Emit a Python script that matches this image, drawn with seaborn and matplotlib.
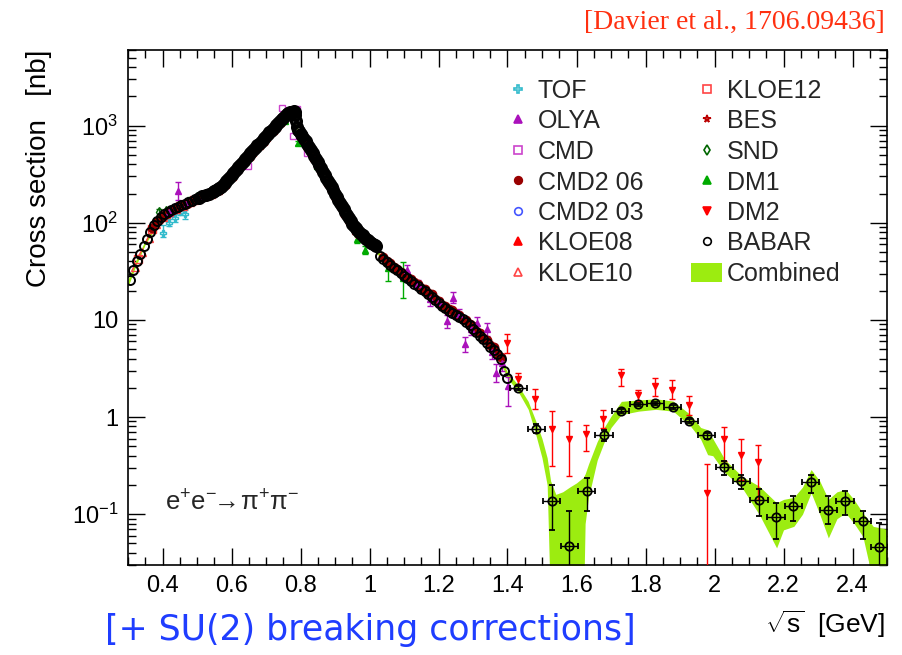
import numpy as np
import matplotlib
matplotlib.use("Agg")
import matplotlib.pyplot as plt
import seaborn as sns
from matplotlib.lines import Line2D
from matplotlib.patches import Patch
from matplotlib.ticker import FixedLocator, FixedFormatter, MultipleLocator, LogLocator, NullFormatter

sns.set_style("ticks")
plt.rcParams['font.family'] = ['Liberation Sans', 'DejaVu Sans']
plt.rcParams['mathtext.fontset'] = 'custom'
plt.rcParams['mathtext.rm'] = 'Liberation Sans'
plt.rcParams['mathtext.it'] = 'Liberation Sans:italic'
plt.rcParams['mathtext.bf'] = 'Liberation Sans:bold'

# ---------------- data ----------------
babar_x = [0.305, 0.315, 0.325, 0.335, 0.345, 0.355, 0.365, 0.375, 0.385, 0.395,
           0.405, 0.415, 0.425, 0.435, 0.445, 0.455, 0.465, 0.475, 0.485, 0.495,
           0.505, 0.515, 0.525, 0.535, 0.545, 0.550, 0.555, 0.560, 0.565, 0.570,
           0.575, 0.580, 0.585, 0.590, 0.595, 0.600, 0.605, 0.610, 0.615, 0.620,
           0.625, 0.630, 0.635, 0.640, 0.645, 0.650, 0.655, 0.660, 0.665, 0.670,
           0.675, 0.680, 0.685, 0.690, 0.695, 0.700, 0.705, 0.710, 0.715, 0.720,
           0.725, 0.730, 0.735, 0.740, 0.745, 0.750, 0.755, 0.760, 0.765, 0.770,
           0.775, 0.780, 0.783, 0.785, 0.787, 0.789, 0.792, 0.795, 0.800, 0.805,
           0.810, 0.815, 0.820, 0.825, 0.830, 0.835, 0.840, 0.845, 0.850, 0.855,
           0.860, 0.865, 0.870, 0.875, 0.880, 0.885, 0.890, 0.895, 0.900, 0.905,
           0.910, 0.915, 0.920, 0.925, 0.930, 0.935, 0.940, 0.945, 0.950, 0.955,
           0.960, 0.965, 0.970, 0.975, 0.980, 0.985, 0.990, 0.995, 1.000, 1.005,
           1.010, 1.015, 1.020, 1.030, 1.040, 1.050, 1.060, 1.070, 1.080, 1.090,
           1.100, 1.110, 1.120, 1.130, 1.140, 1.150, 1.160, 1.170, 1.180, 1.190,
           1.200, 1.210, 1.220, 1.230, 1.240, 1.250, 1.260, 1.270, 1.280, 1.290,
           1.300, 1.310, 1.320, 1.330, 1.340, 1.350, 1.360, 1.370, 1.380, 1.390,
           1.400]
babar_y = [26, 33, 40, 48, 57, 68, 80, 94, 105, 114,
           122, 129, 135, 141, 146, 151, 156, 162, 168, 175,
           181, 187, 193, 199, 206, 210, 215, 221, 228, 236,
           246, 257, 268, 281, 295, 310, 326, 343, 360, 378,
           397, 416, 436, 456, 478, 500, 523, 547, 572, 598,
           625, 653, 683, 714, 746, 780, 815, 851, 889, 929,
           971, 1015, 1062, 1110, 1160, 1210, 1260, 1305, 1345, 1375,
           1395, 1405, 1395, 1300, 1120, 960, 905, 875, 825, 780,
           733, 688, 643, 600, 560, 522, 486, 452, 420, 390,
           362, 336, 312, 290, 269, 250, 232, 215, 200, 186,
           173, 161, 150, 139, 130, 121, 113, 105, 98, 93,
           88, 84, 80, 77, 74, 71, 68, 66, 64, 62,
           60, 58.5, 57, 45, 42, 39.5, 37, 34.5, 32.3, 30.3,
           28.5, 26.8, 25.2, 23.6, 22.2, 21.0, 19.8, 18.5, 17.2, 16.0,
           15.0, 14.0, 13.2, 12.4, 11.8, 11.2, 10.7, 10.1, 9.5, 8.8,
           8.1, 7.5, 6.9, 6.3, 5.8, 5.3, 4.9, 4.5, 4.0, 3.0,
           2.5]

babar_hi_x = [1.431, 1.483, 1.528, 1.579, 1.629, 1.680, 1.728, 1.779, 1.828, 1.879, 1.927,
              1.977, 2.028, 2.078, 2.129, 2.178, 2.228, 2.279, 2.330, 2.378, 2.429, 2.478]
babar_hi_y = [2.0, 0.757, 0.136, 0.047, 0.173, 0.65, 1.15, 1.35, 1.38, 1.26, 0.91,
              0.646, 0.305, 0.222, 0.139, 0.094, 0.121, 0.214, 0.11, 0.136, 0.086, 0.046]
babar_hi_lo = [1.9, 0.68, 0.069, 0.005, 0.107, 0.565, 1.09, 1.29, 1.32, 1.2, 0.86,
               0.6, 0.256, 0.18, 0.096, 0.055, 0.085, 0.166, 0.079, 0.099, 0.055, 0.005]
babar_hi_up = [2.1, 0.84, 0.2, 0.107, 0.237, 0.74, 1.21, 1.41, 1.44, 1.32, 0.96,
               0.69, 0.35, 0.256, 0.18, 0.131, 0.153, 0.256, 0.153, 0.173, 0.107, 0.082]
babar_hi_xerr = 0.025

dm2_x = [1.398, 1.431, 1.480, 1.528, 1.579, 1.628, 1.678, 1.728, 1.777, 1.828, 1.878,
         1.927, 1.977, 2.028, 2.078, 2.127]
dm2_y = [5.8, 2.48, 1.54, 0.757, 0.6, 0.662, 0.945, 2.68, 1.67, 2.08, 1.92,
         1.32, 0.166, 0.6, 0.41, 0.343]
dm2_lo = [4.6, 2.16, 1.2, 0.313, 0.246, 0.445, 0.776, 2.08, 1.46, 1.64, 1.52,
          1.06, 0.003, 0.35, 0.227, 0.14]
dm2_up = [7.1, 2.86, 1.96, 1.15, 0.91, 0.82, 1.18, 3.1, 1.89, 2.54, 2.4,
          1.64, 0.325, 0.79, 0.59, 0.51]

olya_x = [0.420, 0.446, 0.470, 0.520, 0.570, 0.620, 0.670, 0.720, 0.760, 0.800, 0.850,
          0.900, 0.950, 1.000, 1.108, 1.140, 1.175, 1.200, 1.224, 1.242, 1.260, 1.277,
          1.295, 1.311, 1.340, 1.355, 1.368, 1.385, 1.402]
olya_y = [128, 212, 160, 188, 235, 372, 590, 915, 1290, 810, 425,
          205, 101, 61, 33, 23.5, 16.3, 15.2, 9.7, 17, 11.5, 5.6,
          8.0, 9.3, 8.0, 4.7, 2.86, 3.6, 2.08]
olya_lo = [118, 172, 148, 176, 222, 352, 560, 870, 1230, 770, 405,
           195, 95, 56, 29, 21, 14, 13.5, 8.3, 14.8, 10.2, 4.7,
           7.0, 8.1, 6.9, 4.0, 2.3, 3.0, 1.3]
olya_up = [138, 260, 172, 200, 248, 392, 620, 960, 1350, 850, 445,
           215, 107, 66, 37, 26, 18.6, 17, 11.2, 19.4, 12.8, 6.6,
           9.0, 10.6, 9.3, 5.5, 3.5, 4.3, 2.6]

cmd2_06_x = [0.37, 0.38, 0.39, 0.40, 0.41, 0.42, 0.43, 0.44, 0.45, 0.46, 0.47, 0.48,
             0.49, 0.50, 0.51, 0.52,
             0.61, 0.66, 0.71, 0.76, 0.81, 0.86, 0.91, 0.96,
             1.04, 1.05, 1.06, 1.07, 1.08, 1.09, 1.10, 1.11, 1.12, 1.13, 1.14, 1.15,
             1.16, 1.17, 1.18, 1.19, 1.20, 1.21, 1.22, 1.23, 1.24, 1.25, 1.26, 1.27,
             1.28, 1.29, 1.30, 1.31, 1.32, 1.33, 1.34, 1.35, 1.36, 1.37, 1.38]
cmd2_06_y = [88, 101, 108, 118, 123, 132, 136, 143, 147, 153, 157, 165,
             170, 178, 182, 190,
             342, 545, 850, 1300, 735, 362, 173, 86,
             44, 40.5, 38.5, 35, 33.5, 31, 30, 27.5, 26.5, 24.5, 23.5, 21.5,
             20.8, 19, 18.3, 16.5, 15.8, 14.4, 14.0, 12.9, 12.6, 11.5, 11.3, 10.3,
             10.0, 9.1, 8.7, 7.7, 7.3, 6.5, 6.2, 5.5, 5.2, 4.5, 4.2]

kloe08_x = [0.60, 0.62, 0.64, 0.66, 0.68, 0.70, 0.72, 0.74, 0.76, 0.78, 0.80, 0.82,
            0.84, 0.86, 0.88, 0.90, 0.92, 0.94, 0.96]
kloe08_y = [318, 386, 464, 559, 668, 796, 949, 1142, 1335, 1420, 835, 653,
            496, 370, 275, 204, 153, 115, 88]

kloe10_x = [0.32, 0.34, 0.36, 0.38, 0.40, 0.42, 0.44, 0.46, 0.48, 0.50, 0.52, 0.54,
            0.56, 0.58, 0.60, 0.62, 0.64, 0.66, 0.68, 0.70, 0.72, 0.74, 0.76, 0.78,
            0.80, 0.82, 0.84, 0.86, 0.88, 0.90, 0.92, 0.94, 0.96]
kloe10_y = [35, 50, 70, 97, 115, 130, 139, 150, 162, 175, 187, 199,
            217, 252, 302, 368, 443, 532, 638, 762, 905, 1085, 1280, 1370,
            805, 628, 478, 355, 263, 195, 147, 110, 85]

kloe12_x = [0.33, 0.37, 0.41, 0.45, 0.49, 0.53, 0.57, 0.61, 0.65, 0.69, 0.73, 0.77,
            0.81, 0.85, 0.89, 0.93, 0.97]
kloe12_y = [42, 86, 124, 148, 170, 195, 236, 338, 490, 702, 1000, 1365,
            720, 415, 228, 127, 78]

bes_x = [0.61, 0.65, 0.69, 0.73, 0.77, 0.81, 0.85, 0.89, 0.93]
bes_y = [340, 498, 712, 1012, 1380, 730, 420, 232, 130]

cmd2_03_x = [0.62, 0.66, 0.70, 0.74, 0.78, 0.82, 0.86, 0.90, 0.94]
cmd2_03_y = [378, 547, 780, 1110, 1405, 643, 362, 200, 113]

cmd_x = [0.40, 0.45, 0.50, 0.55, 0.60, 0.649, 0.70, 0.745, 0.779, 0.789, 0.818,
         0.85, 0.90, 0.95]
cmd_y = [118, 148, 178, 210, 305, 384, 770, 1530, 782, 1470, 525, 430, 215, 105]

dm1_x = [0.48, 0.50, 0.55, 0.60, 0.65, 0.70, 0.755, 0.794, 0.82, 0.847, 0.90, 0.935,
         0.963, 0.987, 1.054, 1.098]
dm1_y = [172, 176, 205, 300, 470, 745, 1115, 668, 600, 384, 200, 115,
         67.6, 53, 34.4, 27]
dm1_lo = [158, 166, 193, 285, 447, 710, 1060, 635, 570, 365, 188, 107,
          62, 48, 25, 17]
dm1_up = [186, 186, 217, 315, 493, 780, 1170, 700, 630, 403, 212, 123,
          73, 58, 40, 39]

snd_x = [0.39, 0.41, 0.45, 0.50, 0.55, 0.60, 0.65, 0.70, 0.75, 0.78, 0.80, 0.85,
         0.90, 0.95]
snd_y = [128, 132, 150, 182, 212, 315, 505, 790, 1230, 1410, 830, 425, 202, 100]
snd_lo = [116, 124, 143, 175, 205, 305, 490, 770, 1200, 1380, 810, 415, 196, 96]
snd_up = [140, 140, 157, 189, 219, 325, 520, 810, 1260, 1440, 850, 435, 208, 104]

tof_x = [0.400, 0.420, 0.436, 0.450, 0.465]
tof_y = [79, 100, 112, 130, 122]
tof_lo = [72, 92, 103, 120, 110]
tof_up = [95, 110, 122, 140, 134]

band_x = [0.30, 0.32, 0.35, 0.40, 0.45, 0.50, 0.55, 0.60, 0.65, 0.70, 0.75, 0.775,
          0.785, 0.79, 0.80, 0.85, 0.90, 0.95, 1.00, 1.05, 1.10, 1.15, 1.20, 1.25,
          1.30, 1.35, 1.38, 1.40, 1.43, 1.46, 1.48, 1.50, 1.515, 1.525, 1.54, 1.56,
          1.58, 1.60, 1.62, 1.625, 1.635, 1.66, 1.68, 1.70, 1.73, 1.78, 1.83, 1.88,
          1.93, 1.96, 1.98, 1.995, 2.03, 2.08, 2.13, 2.18, 2.20, 2.23, 2.255, 2.28,
          2.305, 2.33, 2.355, 2.38, 2.405, 2.43, 2.46, 2.50]
band_lo = [22, 34, 60, 114, 143, 175, 207, 303, 485, 755, 1190, 1360,
           1150, 900, 795, 420, 210, 103, 57, 38, 27.5, 20.2, 14.4, 10.6,
           7.6, 5.0, 3.6, 2.5, 1.85, 1.2, 0.7, 0.38, 0.2, 0.01, 0.01, 0.01,
           0.01, 0.01, 0.01, 0.08, 0.15, 0.36, 0.55, 0.78, 1.06, 1.15, 1.20, 1.15,
           0.81, 0.59, 0.41, 0.40, 0.268, 0.187, 0.099, 0.045, 0.069, 0.075, 0.10, 0.166,
           0.10, 0.057, 0.09, 0.103, 0.08, 0.059, 0.02, 0.01]
band_hi = [26, 39, 66, 124, 152, 185, 219, 321, 515, 805, 1270, 1440,
           1300, 970, 845, 450, 226, 111, 62, 41.5, 29.8, 22, 15.8, 11.8,
           8.5, 5.7, 4.1, 2.9, 2.15, 1.45, 0.95, 0.6, 0.38, 0.22, 0.16, 0.17,
           0.19, 0.21, 0.24, 0.26, 0.33, 0.56, 0.78, 1.02, 1.45, 1.50, 1.54, 1.46,
           1.06, 0.78, 0.74, 0.60, 0.365, 0.245, 0.194, 0.131, 0.142, 0.149, 0.19, 0.288,
           0.22, 0.142, 0.17, 0.18, 0.14, 0.103, 0.075, 0.07]

x_ticks = [0.4, 0.6, 0.8, 1.0, 1.2, 1.4, 1.6, 1.8, 2.0, 2.2, 2.4]
x_tick_labels = ["0.4", "0.6", "0.8", "1", "1.2", "1.4", "1.6", "1.8", "2", "2.2", "2.4"]
y_ticks = [0.1, 1, 10, 100, 1000]
y_tick_labels = [r"$\mathregular{10^{-1}}$", "1", "10", r"$\mathregular{10^{2}}$", r"$\mathregular{10^{3}}$"]

# ---------------- figure ----------------
W, H = 902, 655
fig = plt.figure(figsize=(W / 100, H / 100), dpi=100)
ax = fig.add_axes([128 / W, 1 - 565 / H, 759 / W, 515 / H])

band_col = '#9cec10'
ax.fill_between(band_x, band_lo, band_hi, color=band_col, lw=0, zorder=1)


def errs(y, lo, up):
    y = np.asarray(y, float)
    return [y - np.asarray(lo, float), np.asarray(up, float) - y]


def pts(x, y, marker, color, filled=True, ms=5, yerr=None, xerr=None, z=3, mew=1.0):
    ax.errorbar(x, y, yerr=yerr, xerr=xerr, fmt=marker, color=color, ms=ms,
                mfc=color if filled else 'none', mec=color, mew=mew,
                ecolor=color, elinewidth=1.0, capsize=2.5, capthick=1.0,
                zorder=z, linestyle='none')


c_tof = '#33bbcc'
c_olya = '#aa11bb'
c_cmd = '#cc44cc'
c_cmd206 = '#990000'
c_cmd203 = '#4455ff'
c_k08 = '#ff0000'
c_k10 = '#ff4444'
c_k12 = '#ff4444'
c_bes = '#bb0000'
c_snd = '#006600'
c_dm1 = '#00aa00'
c_dm2 = '#ff0000'

pts(tof_x, tof_y, 'P', c_tof, filled=False, yerr=errs(tof_y, tof_lo, tof_up), z=2.5)
pts(snd_x, snd_y, 'd', c_snd, filled=False, yerr=errs(snd_y, snd_lo, snd_up), z=2.5)
pts(dm1_x, dm1_y, '^', c_dm1, yerr=errs(dm1_y, dm1_lo, dm1_up), z=2.6)
pts(cmd_x, cmd_y, 's', c_cmd, filled=False, z=2.7)
pts(bes_x, bes_y, '*', c_bes, filled=False, ms=6, z=2.7)
pts(cmd2_03_x, cmd2_03_y, 'o', c_cmd203, filled=False, z=2.7)
pts(kloe12_x, kloe12_y, 's', c_k12, filled=False, ms=6, z=2.8)
pts(kloe10_x, kloe10_y, '^', c_k10, filled=False, ms=6, z=2.8)
pts(kloe08_x, kloe08_y, '^', c_k08, ms=6, z=2.8)
pts(cmd2_06_x, cmd2_06_y, 'o', c_cmd206, ms=6, z=2.85)
pts(olya_x, olya_y, '^', c_olya, yerr=errs(olya_y, olya_lo, olya_up), z=2.9)
pts(dm2_x, dm2_y, 'v', c_dm2, yerr=errs(dm2_y, dm2_lo, dm2_up), z=3.0)

bx = np.asarray(babar_x)
by = np.asarray(babar_y)
sparse = (bx < 0.5) | (bx > 1.025)
ax.plot(bx[sparse], by[sparse], 'o', ms=6.5, mfc='none', mec='black', mew=1.4, zorder=4)
ax.plot(bx[~sparse], by[~sparse], 'o', ms=7, mfc='none', mec='black', mew=2.4, zorder=4)
pts(babar_hi_x, babar_hi_y, 'o', 'black', filled=False, ms=6, mew=1.3,
    yerr=errs(babar_hi_y, babar_hi_lo, babar_hi_up), xerr=babar_hi_xerr, z=4)

# ---------------- axes ----------------
ax.set_yscale('log')
ax.set_xlim(0.3, 2.5)
ax.set_ylim(0.03, 6000)
ax.xaxis.set_major_locator(FixedLocator(x_ticks))
ax.xaxis.set_major_formatter(FixedFormatter(x_tick_labels))
ax.xaxis.set_minor_locator(MultipleLocator(0.05))
ax.yaxis.set_major_locator(FixedLocator(y_ticks))
ax.yaxis.set_major_formatter(FixedFormatter(y_tick_labels))
ax.yaxis.set_minor_locator(LogLocator(base=10, subs=np.arange(2, 10), numticks=100))
ax.yaxis.set_minor_formatter(NullFormatter())
ax.tick_params(which='both', direction='in', top=True, right=True, colors='black',
               labelsize=17)
ax.tick_params(which='major', length=12, width=1.0, pad=7)
ax.tick_params(which='minor', length=6, width=1.0)
for s in ax.spines.values():
    s.set_color('black')
    s.set_linewidth(1.2)
ax.grid(False)

ax.set_ylabel("Cross section   [nb]", fontsize=20, loc='top', color='black')
ax.yaxis.set_label_coords(-0.1, 1.0)
ax.set_xlabel(r"$\mathregular{\sqrt{s}}$  [GeV]", fontsize=19, loc='right', color='black')
ax.xaxis.set_label_coords(0.997, -0.085)

ax.text(0.049, 0.12, r"$\mathregular{e^{+}e^{-}\!\!\rightarrow\!\pi^{+}\pi^{-}}$",
        transform=ax.transAxes, fontsize=18.5, va='center', ha='left')

# ---------------- legend ----------------
labels = ["TOF", "OLYA", "CMD", "CMD2 06", "CMD2 03", "KLOE08", "KLOE10",
          "KLOE12", "BES", "SND", "DM1", "DM2", "BABAR", "Combined"]
hspec = [('P', c_tof, False), ('^', c_olya, True), ('s', c_cmd, False),
         ('o', c_cmd206, True), ('o', c_cmd203, False), ('^', c_k08, True),
         ('^', c_k10, False), ('s', c_k12, False), ('*', c_bes, False),
         ('d', c_snd, False), ('^', c_dm1, True), ('v', c_dm2, True),
         ('o', 'black', False)]
handles = [Line2D([], [], marker=m, color=c, mfc=c if f else 'none', mec=c,
                  linestyle='none', ms=5.5, mew=1.2) for m, c, f in hspec]
handles.append(Patch(facecolor=band_col, edgecolor='none'))
leg = fig.legend(handles, labels, ncol=2, loc='upper left',
                 bbox_to_anchor=(502 / W, 1 - 79 / H), frameon=False,
                 fontsize=18, handlelength=1.24, handleheight=0.8,
                 handletextpad=0.2, columnspacing=1.9, labelspacing=0.26,
                 borderpad=0, borderaxespad=0)

# ---------------- annotations ----------------
fig.text(885 / W, 1 - 10 / H, "[Davier et al., 1706.09436]", ha='right', va='top',
         color='#ff3010', fontsize=20, family=['Liberation Serif', 'DejaVu Serif'])
fig.text(105 / W, 1 - 630 / H, "[+ SU(2) breaking corrections]", ha='left', va='center',
         color='#1f3dff', fontsize=25, family=['DejaVu Sans'])

fig.savefig("out.png", dpi=100)
